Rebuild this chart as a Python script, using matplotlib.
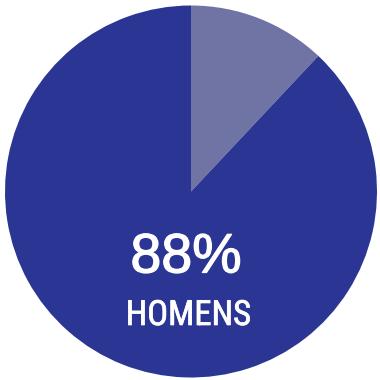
import matplotlib
matplotlib.use("Agg")
import matplotlib.pyplot as plt
import matplotlib.patheffects as pe

labels = ["Mulheres", "Homens"]
values = [12, 88]
colors = ["#6F74A5", "#2B3593"]
main_label = "88%"
sub_label = "HOMENS"

fam_main = ["Liberation Sans", "DejaVu Sans"]
fam_sub = ["Roboto Condensed", "Liberation Sans", "DejaVu Sans"]

fig = plt.figure(figsize=(3.8, 3.8), dpi=100)
ax = fig.add_axes([0, 0, 1, 1])

cx, cy, r = 191, 380 - 191.5, 186
ax.pie(values, colors=colors, startangle=90, counterclock=False,
       center=(cx, cy), radius=r, frame=True,
       wedgeprops=dict(linewidth=0))
ax.set_xlim(0, 380)
ax.set_ylim(0, 380)
ax.set_aspect("equal")
ax.axis("off")

ax.text(186, 380 - 272.5, main_label, color="white", fontsize=40,
        ha="center", va="baseline", family=fam_main,
        path_effects=[pe.withStroke(linewidth=0.9, foreground="white")])
ax.text(188.3, 380 - 325, sub_label, color="white", fontsize=25,
        ha="center", va="baseline", family=fam_sub,
        path_effects=[pe.withStroke(linewidth=0.5, foreground="white")])

fig.savefig("out.png", dpi=100, facecolor="white")
